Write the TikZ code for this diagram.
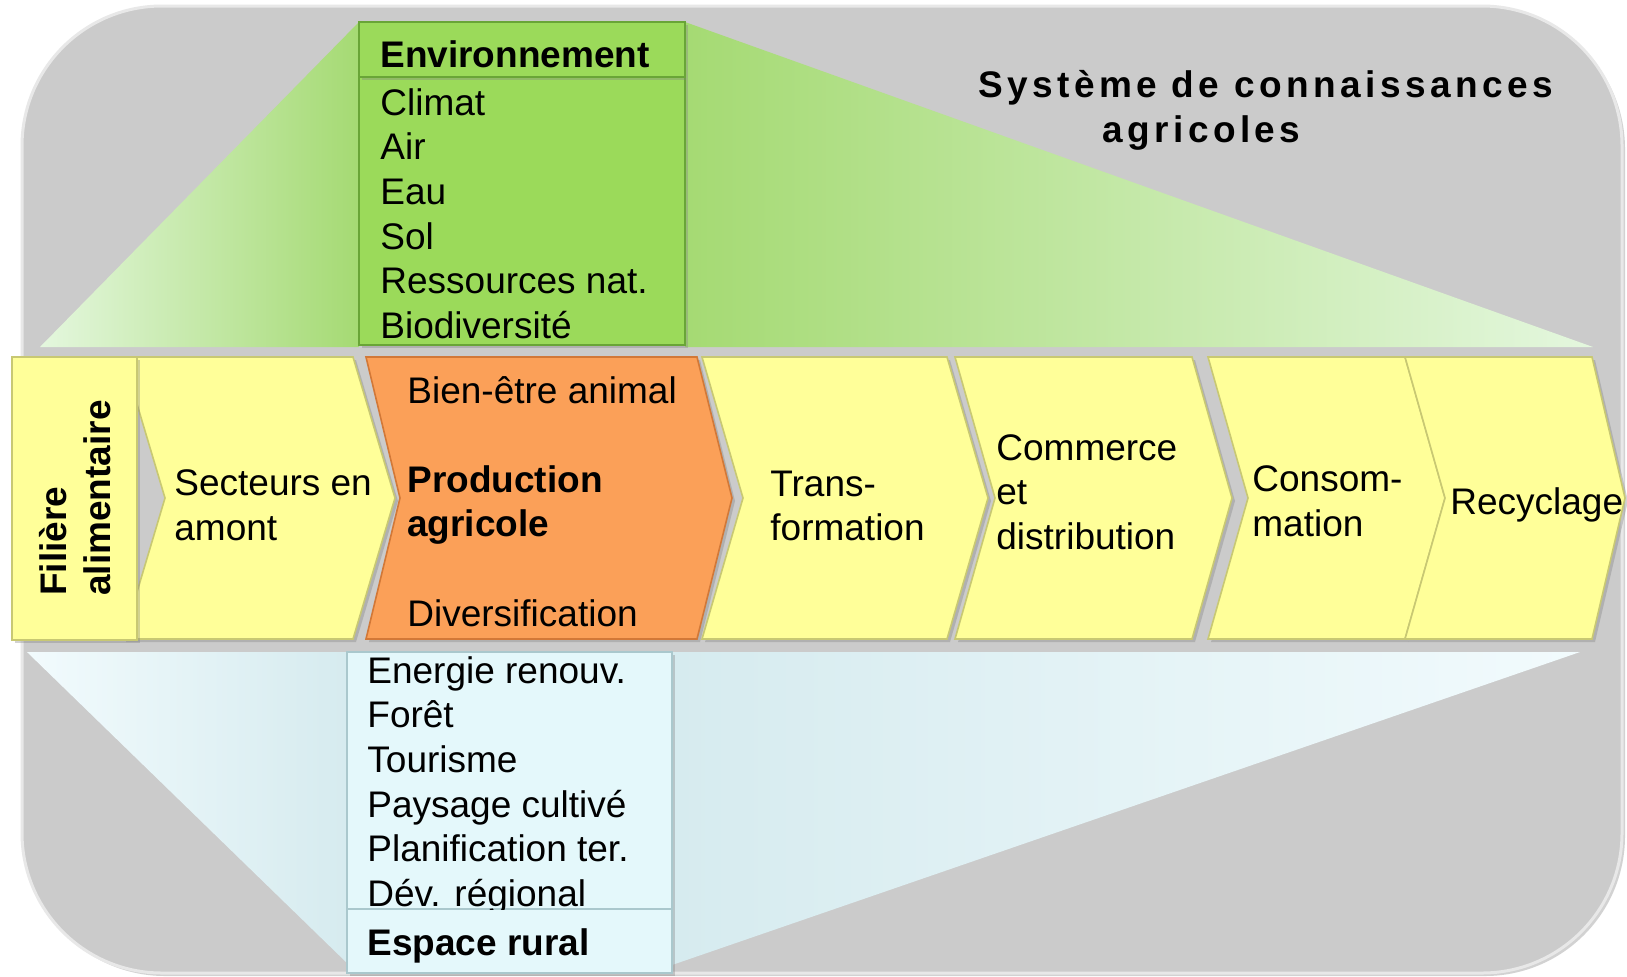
\documentclass[tikz,border=0pt]{standalone}
\usepackage{fontspec}
\setmainfont{Liberation Sans}
\newfontfamily\titlefont[LetterSpace=12]{Liberation Sans}
\usetikzlibrary{shadows}

\definecolor{panelgray}{RGB}{203,203,203}
\definecolor{paneledge}{RGB}{232,232,232}
\definecolor{chainyellow}{RGB}{255,255,153}
\definecolor{yellowedge}{RGB}{200,200,115}
\definecolor{prodorange}{RGB}{251,160,88}
\definecolor{orangeedge}{RGB}{210,120,55}
\definecolor{envgreen}{RGB}{155,218,90}
\definecolor{greenedge}{RGB}{105,165,55}
\definecolor{greenfade}{RGB}{165,218,115}
\definecolor{greenpale}{RGB}{228,247,222}
\definecolor{ruralblue}{RGB}{228,248,251}
\definecolor{blueedge}{RGB}{170,200,205}
\definecolor{bluedeep}{RGB}{214,235,239}
\definecolor{bluepale}{RGB}{242,251,253}

\newcommand{\rowfont}{\fontsize{18.5}{22.3}\selectfont}

\tikzset{
  softshadow/.style={drop shadow={shadow xshift=1.5pt, shadow yshift=-1.5pt, opacity=0.35}},
  chevron/.style={fill=chainyellow, draw=yellowedge, line width=0.8pt, softshadow},
  prodchevron/.style={fill=prodorange, draw=orangeedge, line width=0.8pt, softshadow},
  envbox/.style={fill=envgreen, draw=greenedge, line width=0.8pt, softshadow},
  ruralbox/.style={fill=ruralblue, draw=blueedge, line width=0.8pt, softshadow},
  itemtext/.style={anchor=west, align=left},
}

\begin{document}
\begin{tikzpicture}[x=0.5pt, y=-0.5pt, every node/.style={inner sep=0pt, font=\rowfont}]
	\useasboundingbox (0,0) rectangle (1627,976);
	\fill[white] (0,0) rectangle (1627,976);

	% Background panel
	\draw[fill=panelgray, draw=paneledge, line width=1.5pt, rounded corners=70pt, softshadow] (22,6) rectangle (1622,973);

	% Fans towards the environment box and the rural box
	\shade[left color=greenpale, right color=greenfade] (40,347) -- (359,22) -- (359,347) -- cycle;
	\shade[left color=greenfade, right color=greenpale] (685,22) -- (1593,347) -- (685,347) -- cycle;
	\shade[left color=bluepale, right color=bluedeep] (27,652) -- (347,652) -- (347,963) -- cycle;
	\shade[left color=bluedeep, right color=bluepale] (672,652) -- (1580,652) -- (672,965) -- cycle;

	% Environment box
	\draw[envbox] (359,77) rectangle (685,345);
	\draw[envbox] (359,22) rectangle (685,77);

	\node[anchor=west, font=\rowfont\bfseries] (envhead) at (380,54) {Environnement};
	\node[anchor=north west, align=left] (envlist) at (380,88) {Climat\\Air\\Eau\\Sol\\Ressources nat.\\Biodiversité};

	% Rural box
	\draw[ruralbox] (347,652) rectangle (672,909);
	\draw[ruralbox] (347,909) rectangle (672,973);

	\begin{scope}
		\clip (347,652) rectangle (672,909);
		\node[anchor=north west, align=left] (rurallist) at (367,656) {Energie renouv.\\Forêt\\Tourisme\\Paysage cultivé\\Planification ter.\\Dév. régional};
	\end{scope}
	\node[anchor=west, font=\rowfont\bfseries] (ruralhead) at (367,946) {Espace rural};

	% The food chain
	\draw[chevron] (123,357) -- (353,357) -- (395,498) -- (353,639) -- (123,639) -- (165,498) -- cycle;
	\draw[prodchevron] (366,357) -- (697,357) -- (732,498) -- (697,639) -- (366,639) -- (400,498) -- cycle;
	\draw[chevron] (702,357) -- (947,357) -- (988,498) -- (947,639) -- (702,639) -- (743,498) -- cycle;
	\draw[chevron] (955,357) -- (1192,357) -- (1232,498) -- (1192,639) -- (955,639) -- (995,498) -- cycle;
	\draw[chevron] (1208,357) -- (1405,357) -- (1445,498) -- (1405,639) -- (1208,639) -- (1248,498) -- cycle;
	\draw[chevron] (1405,357) -- (1592,357) -- (1625,498) -- (1592,639) -- (1405,639) -- (1445,498) -- cycle;

	\draw[chevron] (12,357) rectangle (137,640);
	\node[rotate=90, anchor=west, align=left, font=\rowfont\bfseries] (filiere) at (75,596) {Filière\\alimentaire};

	\node[itemtext] (amont) at (174,505) {Secteurs en\\amont};
	\node[itemtext] (bienetre) at (407,390) {Bien-être animal};
	\node[itemtext, font=\rowfont\bfseries] (production) at (407,505) {Production\\agricole};
	\node[itemtext] (diversif) at (407,613) {Diversification};
	\node[itemtext] (transfo) at (770,506) {Trans-\\formation};
	\node[itemtext] (commerce) at (996,492) {Commerce\\et\\distribution};
	\node[itemtext] (consom) at (1252,501) {Consom-\\mation};
	\node[itemtext] (recyclage) at (1450,505) {Recyclage};

	% Title
	\node[anchor=north west, align=left, font={\titlefont\bfseries\fontsize{18.5}{22.5}\selectfont}] (title) at (978,70) {Système de connaissances\\\hspace*{62pt}agricoles};

\end{tikzpicture}
\end{document}
